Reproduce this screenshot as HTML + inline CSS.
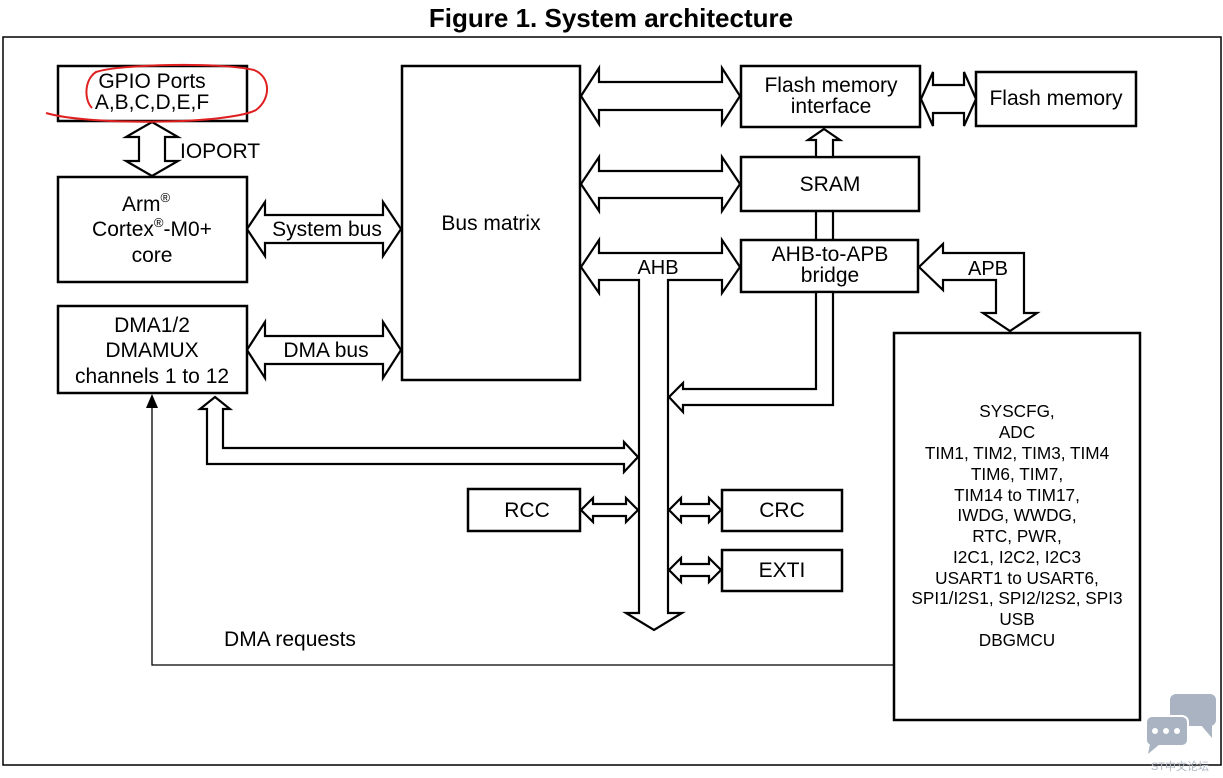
<!DOCTYPE html>
<html><head><meta charset="utf-8"><style>
html,body{margin:0;padding:0;background:#fff;}
svg{display:block;}
text{font-family:"Liberation Sans",Arial,sans-serif;fill:#000;}
</style></head><body>
<svg width="1223" height="778" viewBox="0 0 1223 778" xmlns="http://www.w3.org/2000/svg">
<text x="611" y="27" font-size="26" font-weight="bold" text-anchor="middle">Figure 1. System architecture</text>
<rect x="3" y="37" width="1218" height="728" fill="none" stroke="#000" stroke-width="1.5"/>
<g fill="#fff" stroke="#000" stroke-width="2.5">
<rect x="58" y="66" width="189" height="55"/>
<rect x="58" y="177" width="189" height="105"/>
<rect x="58" y="306" width="189" height="87"/>
<rect x="402" y="66" width="178" height="314"/>
<rect x="741" y="66" width="179" height="61"/>
<rect x="976" y="72" width="160" height="54"/>
<rect x="741" y="157" width="178" height="54"/>
<rect x="741" y="240" width="177" height="52"/>
<rect x="894" y="333" width="246" height="387"/>
<rect x="468" y="489" width="112" height="42"/>
<rect x="722" y="490" width="120" height="41"/>
<rect x="722" y="550" width="120" height="41"/>
</g>
<g fill="#fff" stroke="#000" stroke-width="2.2" stroke-linejoin="miter">
<polygon points="247,229 265,202 265,215 383,215 383,202 401,229 383,256 383,243 265,243 265,256"/>
<polygon points="247,350 265,322 265,336 383,336 383,322 401,350 383,378 383,364 265,364 265,378"/>
<polygon points="581,96 599,68 599,82 722,82 722,68 740,96 722,124 722,110 599,110 599,124"/>
<polygon points="581,184 599,157 599,171 722,171 722,157 740,184 722,211 722,198 599,198 599,211"/>
<polygon points="921,99 933,72 933,85 964,85 964,72 976,99 964,126 964,113 933,113 933,126"/>
<polygon points="152,122 178,137 165,137 165,161 178,161 152,176 126,161 139,161 139,137 126,137"/>
<polygon points="824,129 840,140 833,140 833,157 816,157 816,140 808,140"/>
<line x1="816" y1="211" x2="816" y2="240"/><line x1="833" y1="211" x2="833" y2="240"/>
<polygon points="816,292 816,389 683,389 683,383 669,397 683,412 683,405 833,405 833,292"/>
<polygon points="919,267 943,244 943,253 1024,253 1024,313 1037,313 1010,331 983,313 996,313 996,280 943,280 943,290"/>
<polygon points="215,397 230,409 223,409 223,448 624,448 624,442 638,457 624,472 624,464 207,464 207,409 200,409"/>
<polygon points="581,510 593,498 593,504 626,504 626,498 638,510 626,522 626,516 593,516 593,522"/>
<polygon points="669,510 681,498 681,504 709,504 709,498 721,510 709,522 709,516 681,516 681,522"/>
<polygon points="669,570 681,558 681,564 709,564 709,558 721,570 709,582 709,576 681,576 681,582"/>
<polygon points="581,267 599,240 599,253 722,253 722,240 740,267 722,293 722,280 668,280 668,613 682,613 654,630 626,613 639,613 639,280 599,280 599,293"/>
</g>
<polyline points="894,665 152,665 152,406" fill="none" stroke="#000" stroke-width="1.3"/>
<polygon points="152,394 146,408 158,408" fill="#000"/>
<g font-size="21" text-anchor="middle">
<text x="152" y="88">GPIO Ports</text>
<text x="152" y="109">A,B,C,D,E,F</text>
<text x="180" y="158" text-anchor="start">IOPORT</text>
<text x="146" y="211">Arm<tspan font-size="13" dy="-9">®</tspan></text>
<text x="152" y="236">Cortex<tspan font-size="13" dy="-9">®</tspan><tspan dy="9">-M0+</tspan></text>
<text x="152" y="262">core</text>
<text x="327" y="236">System bus</text>
<text x="152" y="332">DMA1/2</text>
<text x="152" y="357">DMAMUX</text>
<text x="152" y="383">channels 1 to 12</text>
<text x="326" y="357">DMA bus</text>
<text x="491" y="230">Bus matrix</text>
<text x="831" y="92">Flash memory</text>
<text x="831" y="113">interface</text>
<text x="1056" y="105">Flash memory</text>
<text x="830" y="191">SRAM</text>
<text x="830" y="261">AHB-to-APB</text>
<text x="830" y="282">bridge</text>
<text x="658" y="274" font-size="20">AHB</text>
<text x="988" y="275" font-size="20">APB</text>
<text x="527" y="517">RCC</text>
<text x="782" y="517">CRC</text>
<text x="782" y="577">EXTI</text>
<text x="290" y="646">DMA requests</text>
</g>
<g font-size="17.2" text-anchor="middle">
<text x="1017" y="417">SYSCFG,</text>
<text x="1017" y="438">ADC</text>
<text x="1017" y="459">TIM1, TIM2, TIM3, TIM4</text>
<text x="1017" y="480">TIM6, TIM7,</text>
<text x="1017" y="501">TIM14 to TIM17,</text>
<text x="1017" y="521">IWDG, WWDG,</text>
<text x="1017" y="542">RTC, PWR,</text>
<text x="1017" y="563">I2C1, I2C2, I2C3</text>
<text x="1017" y="584">USART1 to USART6,</text>
<text x="1017" y="604">SPI1/I2S1, SPI2/I2S2, SPI3</text>
<text x="1017" y="625">USB</text>
<text x="1017" y="646">DBGMCU</text>
</g>
<path d="M 46,113 C 90,126 230,124 256,110 C 272,98 270,76 254,70 C 220,62 120,64 96,72 C 84,80 84,100 92,108" fill="none" stroke="#e02020" stroke-width="2"/>
<g fill="#a9b3c1">
<rect x="1170" y="694" width="46" height="32" rx="6"/>
<polygon points="1200,724 1212,724 1212,738"/>
<rect x="1146" y="716" width="42" height="30" rx="6" stroke="#fff" stroke-width="2"/>
<polygon points="1150,744 1160,744 1148,754"/>
</g>
<g fill="#fff"><circle cx="1155" cy="731" r="3"/><circle cx="1166" cy="731" r="3"/><circle cx="1177" cy="731" r="3"/></g>
<text x="1180" y="770" font-size="11" text-anchor="middle" style="fill:#b0b8c4" font-family="'Liberation Sans','Noto Sans CJK SC',sans-serif">ST中文论坛</text>
</svg>
</body></html>
